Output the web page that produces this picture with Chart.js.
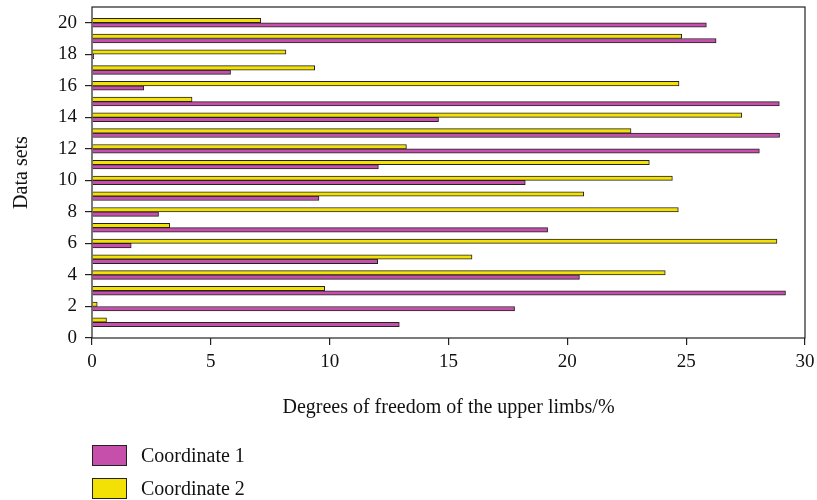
<!DOCTYPE html>
<html>
<head>
<meta charset="utf-8">
<script src="https://cdn.jsdelivr.net/npm/chart.js@4/dist/chart.umd.min.js"></script>
<style>
html,body{margin:0;padding:0;background:#fff;}
#wrap{position:relative;width:817px;height:500px;overflow:hidden;}
canvas{position:absolute;left:0;top:0;}
.leg{position:absolute;left:92px;height:21px;font-family:"Liberation Serif","Times New Roman",serif;font-size:20px;color:#111;display:flex;align-items:center;white-space:nowrap;}
.sw{width:35px;height:21px;border:1px solid #222;box-sizing:border-box;margin-right:14px;}
</style>
</head>
<body>
<div id="wrap">
<canvas id="c" width="817" height="500"></canvas>
</div>
<script>
// ---- data ----
const categories = [1,2,3,4,5,6,7,8,9,10,11,12,13,14,15,16,17,18,19,20];
const coordinate1 = [12.93,17.78,29.18,20.51,12.02,1.65,19.17,2.80,9.55,18.23,12.05,28.08,28.93,14.58,28.92,2.18,5.83,0.07,26.26,25.85];
const coordinate2 = [0.61,0.22,9.79,24.12,15.99,28.82,3.27,24.67,20.69,24.42,23.45,13.23,22.68,27.34,4.21,24.70,9.37,8.16,24.81,7.10];
const seriesNames = ["Coordinate 1","Coordinate 2"];
const xTicks = [0,5,10,15,20,25,30];
const yTicks = [0,2,4,6,8,10,12,14,16,18,20];
const xTitle = "Degrees of freedom of the upper limbs/%";
const yTitle = "Data sets";

const colors = ["#C64FAB","#F3E106"];
const edge = "#222";
const fontFam = '"Liberation Serif","Times New Roman",serif';

Chart.defaults.font.family = fontFam;
Chart.defaults.color = "#111";

const toPts = arr => arr.map((v,i)=>({x:v, y:categories[i]}));

const framePlugin = {
  id:'frame',
  afterDatasetsDraw(chart){
    const {ctx, chartArea:a} = chart;
    ctx.save();
    ctx.strokeStyle = edge;
    ctx.lineWidth = 1.2;
    ctx.strokeRect(a.left, a.top, a.right-a.left, a.bottom-a.top);
    ctx.restore();
  }
};

new Chart(document.getElementById('c'), {
  type:'bar',
  data:{
    datasets:[
      {label:seriesNames[0], data:toPts(coordinate1), backgroundColor:colors[0], borderColor:edge, borderWidth:1, barThickness:4.4, order:1},
      {label:seriesNames[1], data:toPts(coordinate2), backgroundColor:colors[1], borderColor:edge, borderWidth:1, barThickness:4.4, order:0}
    ]
  },
  plugins:[framePlugin],
  options:{
    indexAxis:'y',
    responsive:false,
    animation:false,
    devicePixelRatio:1,
    layout:{padding:{left:0,right:12,top:7,bottom:0}},
    plugins:{legend:{display:false}, tooltip:{enabled:false}},
    scales:{
      x:{
        type:'linear', min:0, max:30,
        afterBuildTicks: s => { s.ticks = xTicks.map(v=>({value:v})); },
        afterFit: s => { s.height = 162; s.paddingLeft = 0; s.paddingRight = 0; },
        grid:{display:true, drawOnChartArea:false, drawTicks:true, tickLength:7, color:edge, lineWidth:1.2},
        border:{display:false},
        ticks:{font:{size:19}, padding:6, color:'#111'},
        title:{display:true, text:xTitle, font:{size:20}, color:'#111', padding:{top:0,bottom:80}}
      },
      y:{
        type:'linear', min:0, max:21, offset:false,
        afterBuildTicks: s => { s.ticks = yTicks.map(v=>({value:v})); },
        afterFit: s => { s.width = 92; s.paddingTop = 0; s.paddingBottom = 0; },
        grid:{display:true, drawOnChartArea:false, drawTicks:true, tickLength:7, color:edge, lineWidth:1.2, offset:false},
        border:{display:false},
        ticks:{font:{size:19}, padding:8, color:'#111'},
        title:{display:true, text:yTitle, font:{size:20}, color:'#111', padding:{top:10,bottom:0}}
      }
    }
  }
});

// legend (HTML)
const wrap = document.getElementById('wrap');
const legTops = [445, 478];
seriesNames.forEach((n,i)=>{
  const d = document.createElement('div');
  d.className='leg';
  d.style.top = legTops[i]+'px';
  const sw = document.createElement('div');
  sw.className='sw';
  sw.style.background = colors[i];
  const t = document.createElement('span');
  t.textContent = n;
  d.appendChild(sw); d.appendChild(t);
  wrap.appendChild(d);
});
</script>
</body>
</html>
